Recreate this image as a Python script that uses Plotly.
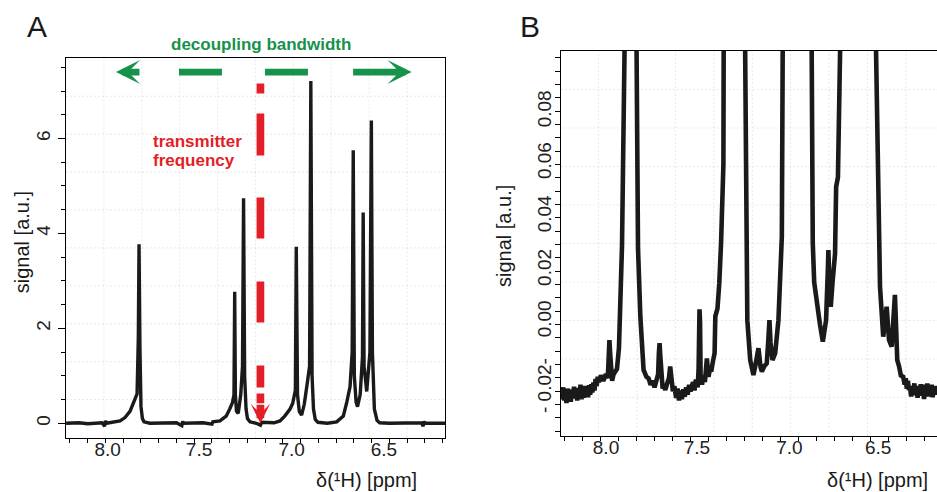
import plotly.graph_objects as go

W, H = 937, 492
FONT = "Liberation Sans, Arial, Helvetica, sans-serif"
INK = "#1a1a1a"
GREEN = "#17924a"
RED = "#e41e26"

# ---------------- Panel A: full 1H spectrum ----------------
a_ppm = [8.222, 8.15, 8.10, 8.02, 8.005, 8.000, 7.995, 7.95, 7.918, 7.89, 7.862, 7.835,
         7.822, 7.815, 7.811, 7.806, 7.800, 7.792, 7.783, 7.75, 7.60, 7.57, 7.565, 7.56,
         7.45, 7.40, 7.395, 7.355, 7.32, 7.30, 7.285, 7.276, 7.272, 7.268, 7.262, 7.252,
         7.238, 7.228, 7.222, 7.216, 7.208, 7.200, 7.186, 7.15, 7.127, 7.12, 7.05, 7.017,
         6.99, 6.96, 6.945, 6.930, 6.925, 6.918, 6.908, 6.895, 6.880, 6.866, 6.850, 6.843,
         6.836, 6.828, 6.818, 6.803, 6.75, 6.697, 6.66, 6.640, 6.622, 6.610, 6.604, 6.598,
         6.588, 6.580, 6.565, 6.552, 6.548, 6.543, 6.528, 6.510, 6.502, 6.496, 6.485, 6.470,
         6.455, 6.40, 6.22, 6.21, 6.205, 6.20, 6.087]
a_sig = [0.00, 0.01, -0.01, 0.01, -0.06, 0.05, 0.00, 0.02, 0.05, 0.12, 0.25, 0.50,
         0.62, 1.8, 3.77, 1.6, 0.35, 0.10, 0.03, 0.00, 0.01, -0.05, 0.04, 0.00,
         0.01, -0.02, 0.03, 0.05, 0.15, 0.30, 0.43, 0.6, 2.77, 0.6, 0.25, 0.21,
         0.6, 1.2, 4.74, 1.0, 0.3, 0.10, 0.03, 0.00, -0.04, 0.02, 0.01, 0.05,
         0.15, 0.30, 0.42, 0.7, 3.72, 0.6, 0.25, 0.17, 0.40, 0.77, 1.2, 7.21,
         1.0, 0.3, 0.08, 0.02, 0.00, 0.03, 0.15, 0.45, 0.77, 1.5, 5.75, 1.0,
         0.45, 0.35, 0.6, 1.4, 4.44, 1.2, 0.67, 1.5, 6.38, 1.5, 0.3, 0.06,
         0.01, 0.00, 0.01, -0.06, 0.04, 0.00, 0.00]

a_xtick_pos = [7.988, 7.473, 6.951, 6.431]
a_xtick_text = ["8.0", "7.5", "7.0", "6.5"]
a_ytick_pos = [0, 2, 4, 6]
a_ytick_text = ["0", "2", "4", "6"]

# ---------------- Panel B: vertical zoom on the baseline ----------------
b_ppm = [8.222, 8.214, 8.208, 8.202, 8.196, 8.190, 8.184, 8.178, 8.172, 8.166, 8.160, 8.154,
         8.148, 8.142, 8.136, 8.130, 8.124, 8.118, 8.112, 8.106, 8.100, 8.094, 8.088, 8.082,
         8.076, 8.070, 8.064, 8.058, 8.052, 8.046, 8.040, 8.034, 8.028, 8.022, 8.016,
         8.010, 7.998, 7.985, 7.970, 7.960, 7.954, 7.951, 7.947, 7.943, 7.936, 7.928,
         7.918, 7.909, 7.898, 7.890, 7.881, 7.867, 7.845, 7.800, 7.792, 7.779, 7.761,
         7.745, 7.733, 7.722, 7.712, 7.700, 7.690, 7.680, 7.676, 7.672, 7.668, 7.662,
         7.655, 7.650, 7.640, 7.630, 7.620, 7.613, 7.606, 7.598, 7.590, 7.580, 7.572,
         7.564, 7.556, 7.548, 7.540, 7.532, 7.524, 7.516, 7.508, 7.500, 7.486, 7.478,
         7.470, 7.460, 7.455, 7.452, 7.450, 7.447, 7.444, 7.436, 7.428, 7.420, 7.409,
         7.400, 7.392, 7.385, 7.375, 7.366, 7.362, 7.350, 7.340, 7.330, 7.317, 7.307,
         7.28, 7.25, 7.196, 7.187, 7.184, 7.168, 7.150, 7.140, 7.122, 7.110, 7.103,
         7.090, 7.076, 7.068, 7.061, 7.055, 7.044, 7.029, 7.011, 6.992, 6.974, 6.92,
         6.86, 6.826, 6.820, 6.812, 6.798, 6.780, 6.764, 6.746, 6.736, 6.733, 6.728,
         6.720, 6.710, 6.696, 6.690, 6.680, 6.668, 6.60, 6.52, 6.468, 6.446, 6.428,
         6.409, 6.396, 6.381, 6.363, 6.350, 6.340, 6.330, 6.317, 6.309, 6.303, 6.297,
         6.291, 6.285, 6.279, 6.273, 6.267, 6.261, 6.255, 6.249, 6.243, 6.237, 6.231,
         6.225, 6.219, 6.213, 6.207, 6.201, 6.195, 6.189, 6.183, 6.177, 6.171, 6.165,
         6.159, 6.153, 6.147, 6.141, 6.135, 6.129]
b_sig = [-0.0265, -0.0295, -0.0250, -0.0300, -0.0262, -0.0310, -0.0255, -0.0290, -0.0270, -0.0305, -0.0258, -0.0292,
         -0.0248, -0.0288, -0.0260, -0.0300, -0.0252, -0.0285, -0.0240, -0.0295, -0.0262, -0.0290, -0.0245, -0.0280,
         -0.0250, -0.0288, -0.0242, -0.0278, -0.0238, -0.0270, -0.0232, -0.0262, -0.0218, -0.0245, -0.0210,
         -0.0230, -0.0205, -0.0225, -0.0200, -0.0215, -0.0120, -0.0070, -0.0120, -0.0200, -0.0225, -0.0200,
         -0.0190, -0.0180, -0.0100, 0.0080, 0.0290, 0.1030, 2.0, 0.1030, 0.0280, 0.0019, -0.0184,
         -0.0210, -0.0216, -0.0240, -0.0225, -0.0250, -0.0230, -0.0200, -0.0120, -0.0082, -0.0130, -0.0230,
         -0.0255, -0.0240, -0.0260, -0.0235, -0.0215, -0.0171, -0.0240, -0.0265, -0.0245, -0.0290, -0.0255,
         -0.0300, -0.0262, -0.0295, -0.0258, -0.0285, -0.0250, -0.0278, -0.0240, -0.0265, -0.0230, -0.0262,
         -0.0220, -0.0250, -0.0180, 0.0000, 0.0047, 0.0000, -0.0200, -0.0240, -0.0205, -0.0230, -0.0140,
         -0.0210, -0.0180, -0.0190, -0.0150, -0.0120, 0.0020, 0.0050, 0.0146, 0.0300, 0.0600, 0.1030,
         2.0, 2.0, 0.1030, 0.0290, 0.0006, -0.0146, -0.0203, -0.0170, -0.0101, -0.0175, -0.0190,
         -0.0170, -0.0159, -0.0080, 0.0006, -0.0080, -0.0146, -0.0120, 0.0006, 0.0324, 0.1030, 2.0,
         2.0, 0.1030, 0.0300, 0.0150, 0.0070, -0.0010, -0.0076, 0.0006, 0.0200, 0.0273, 0.0150,
         0.0057, 0.0150, 0.0260, 0.0514, 0.0550, 0.1030, 2.0, 2.0, 0.1030, 0.0133, -0.0057,
         0.0057, -0.0070, -0.0095, 0.0102, -0.0146, -0.0170, -0.0205, -0.0210, -0.0240, -0.0215, -0.0255,
         -0.0225, -0.0260, -0.0248, -0.0285, -0.0245, -0.0270, -0.0235, -0.0280, -0.0250, -0.0290, -0.0245,
         -0.0275, -0.0238, -0.0282, -0.0250, -0.0295, -0.0240, -0.0272, -0.0235, -0.0285, -0.0248, -0.0270,
         -0.0240, -0.0288, -0.0250, -0.0278, -0.0245, -0.0270]

b_xtick_pos = [7.970, 7.464, 6.950, 6.456]
b_xtick_text = ["8.0", "7.5", "7.0", "6.5"]
b_ytick_pos = [-0.0254, 0.0, 0.0196, 0.0400, 0.0603, 0.0800]
b_ytick_text = ["- 0.02-", "0.00", "0.02", "0.04", "0.06", "0.08"]

# ---------------- Figure ----------------
def px(x):
    return x / W


def py(y):
    return 1 - y / H


fig = go.Figure()
fig.add_trace(go.Scatter(x=a_ppm, y=a_sig, mode="lines", line=dict(color=INK, width=3.4),
                         xaxis="x", yaxis="y", showlegend=False, hoverinfo="skip"))
fig.add_trace(go.Scatter(x=b_ppm, y=b_sig, mode="lines", line=dict(color=INK, width=4.6),
                         xaxis="x2", yaxis="y2", showlegend=False, hoverinfo="skip"))

tickfont = dict(family=FONT, size=19, color="#222222")
common = dict(showline=True, linecolor="black", linewidth=1.3, showgrid=False,
              zeroline=False, automargin=False, ticks="outside", tickwidth=1,
              tickfont=tickfont, fixedrange=True)

fig.update_layout(
    width=W, height=H, margin=dict(l=0, r=0, t=0, b=0),
    paper_bgcolor="white", plot_bgcolor="white",
    xaxis=dict(domain=[px(66), px(445)], range=[8.2225, 6.087], anchor="y", mirror=True,
               tickmode="array", tickvals=a_xtick_pos, ticktext=a_xtick_text,
               ticklen=0, tickcolor="rgba(0,0,0,0)", ticklabelstandoff=-5,
               minor=dict(tick0=8.0, dtick=0.1, ticks="outside", ticklen=4,
                          tickcolor="black", tickwidth=1, showgrid=False),
               **common),
    yaxis=dict(domain=[py(437.5), py(58.3)], range=[-0.30, 7.69], anchor="x", mirror=True,
               tickmode="array", tickvals=a_ytick_pos, ticktext=a_ytick_text,
               tickangle=-90, ticklen=7, tickcolor="black",
               minor=dict(tick0=0, dtick=0.5, ticks="outside", ticklen=4,
                          tickcolor="black", tickwidth=1, showgrid=False),
               **common),
    xaxis2=dict(domain=[px(560.7), 1.0], range=[8.222, 6.129], anchor="y2", mirror=True,
                tickmode="array", tickvals=b_xtick_pos, ticktext=b_xtick_text,
                ticklen=0, tickcolor="rgba(0,0,0,0)", ticklabelstandoff=-6,
                minor=dict(tick0=8.0, dtick=0.1, ticks="outside", ticklen=4,
                           tickcolor="black", tickwidth=1, showgrid=False),
                **common),
    yaxis2=dict(domain=[py(436), py(51)], range=[-0.04354, 0.10312], anchor="x2", mirror=False,
                tickmode="array", tickvals=b_ytick_pos, ticktext=b_ytick_text,
                tickangle=-90, ticklen=1, tickcolor="rgba(0,0,0,0)",
                minor=dict(tick0=0.0955, dtick=0.00508, ticks="outside", ticklen=5,
                           tickcolor="black", tickwidth=1, showgrid=False),
                **common),
)

# faint background grid (10 x 10 cells)
GRID = dict(color="rgba(0,0,0,0.09)", width=1, dash="2px,2px")
shapes = []
for k in range(1, 10):
    f = k / 10
    shapes.append(dict(type="line", xref="x domain", yref="y domain", x0=f, x1=f, y0=0, y1=1,
                       line=GRID, layer="below"))
    shapes.append(dict(type="line", xref="x domain", yref="y domain", x0=0, x1=1, y0=f, y1=f,
                       line=GRID, layer="below"))
    shapes.append(dict(type="line", xref="x2 domain", yref="y2 domain", x0=0, x1=1, y0=f, y1=f,
                       line=GRID, layer="below"))
for k in range(0, 9):
    g = 8.011 - 0.2136 * k
    shapes.append(dict(type="line", xref="x2", yref="y2 domain", x0=g, x1=g, y0=0, y1=1,
                       line=GRID, layer="below"))

# decoupling bandwidth: dashed green double arrow
shapes.append(dict(type="line", xref="x", yref="y", x0=7.586, x1=6.857, y0=7.40, y1=7.40,
                   line=dict(color=GREEN, width=6.7, dash="43px,43px")))
# transmitter frequency: dashed red vertical line
shapes.append(dict(type="line", xref="x", yref="y", x0=7.127, x1=7.127, y0=7.158, y1=0.421,
                   line=dict(color=RED, width=7.7,
                             dash="10px,20px,42px,42px,41px,43px,41px,43px,22px,6px,10px")))
fig.update_layout(shapes=shapes)

ann = []
# arrowheads
ann.append(dict(x=7.941, y=7.40, xref="x", yref="y", ax=25, ay=0, axref="pixel", ayref="pixel",
                text="", showarrow=True, arrowhead=3, arrowsize=0.6, arrowwidth=6.7,
                arrowcolor=GREEN))
ann.append(dict(x=6.275, y=7.40, xref="x", yref="y", ax=-60, ay=0, axref="pixel", ayref="pixel",
                text="", showarrow=True, arrowhead=3, arrowsize=0.6, arrowwidth=6.7,
                arrowcolor=GREEN))
ann.append(dict(x=7.127, y=0.0, xref="x", yref="y", ax=0, ay=-20, axref="pixel", ayref="pixel",
                text="", showarrow=True, arrowhead=3, arrowsize=0.42, arrowwidth=7.7,
                arrowcolor=RED))


def label(text, x, y, size, color="#1a1a1a", xanchor="center", angle=0):
    ann.append(dict(text=text, x=px(x), y=py(y), xref="paper", yref="paper",
                    xanchor=xanchor, yanchor="middle", showarrow=False, textangle=angle,
                    font=dict(family=FONT, size=size, color=color)))


label("<b>decoupling bandwidth</b>", 261, 44.7, 17, GREEN)
label("<b>transmitter</b>", 151, 142, 17, RED, xanchor="left")
label("<b>frequency</b>", 151, 161, 17, RED, xanchor="left")
label("A", 36.7, 26.2, 30)
label("B", 530, 26.2, 30)
label("signal [a.u.]", 21.7, 242.5, 20, angle=-90)
label("signal [a.u.]", 504, 236, 20, angle=-90)
label("δ(¹H) [ppm]", 366, 480, 20)
label("δ(¹H) [ppm]", 877.5, 480, 20)
fig.update_layout(annotations=ann)

fig.write_html("out.html")
